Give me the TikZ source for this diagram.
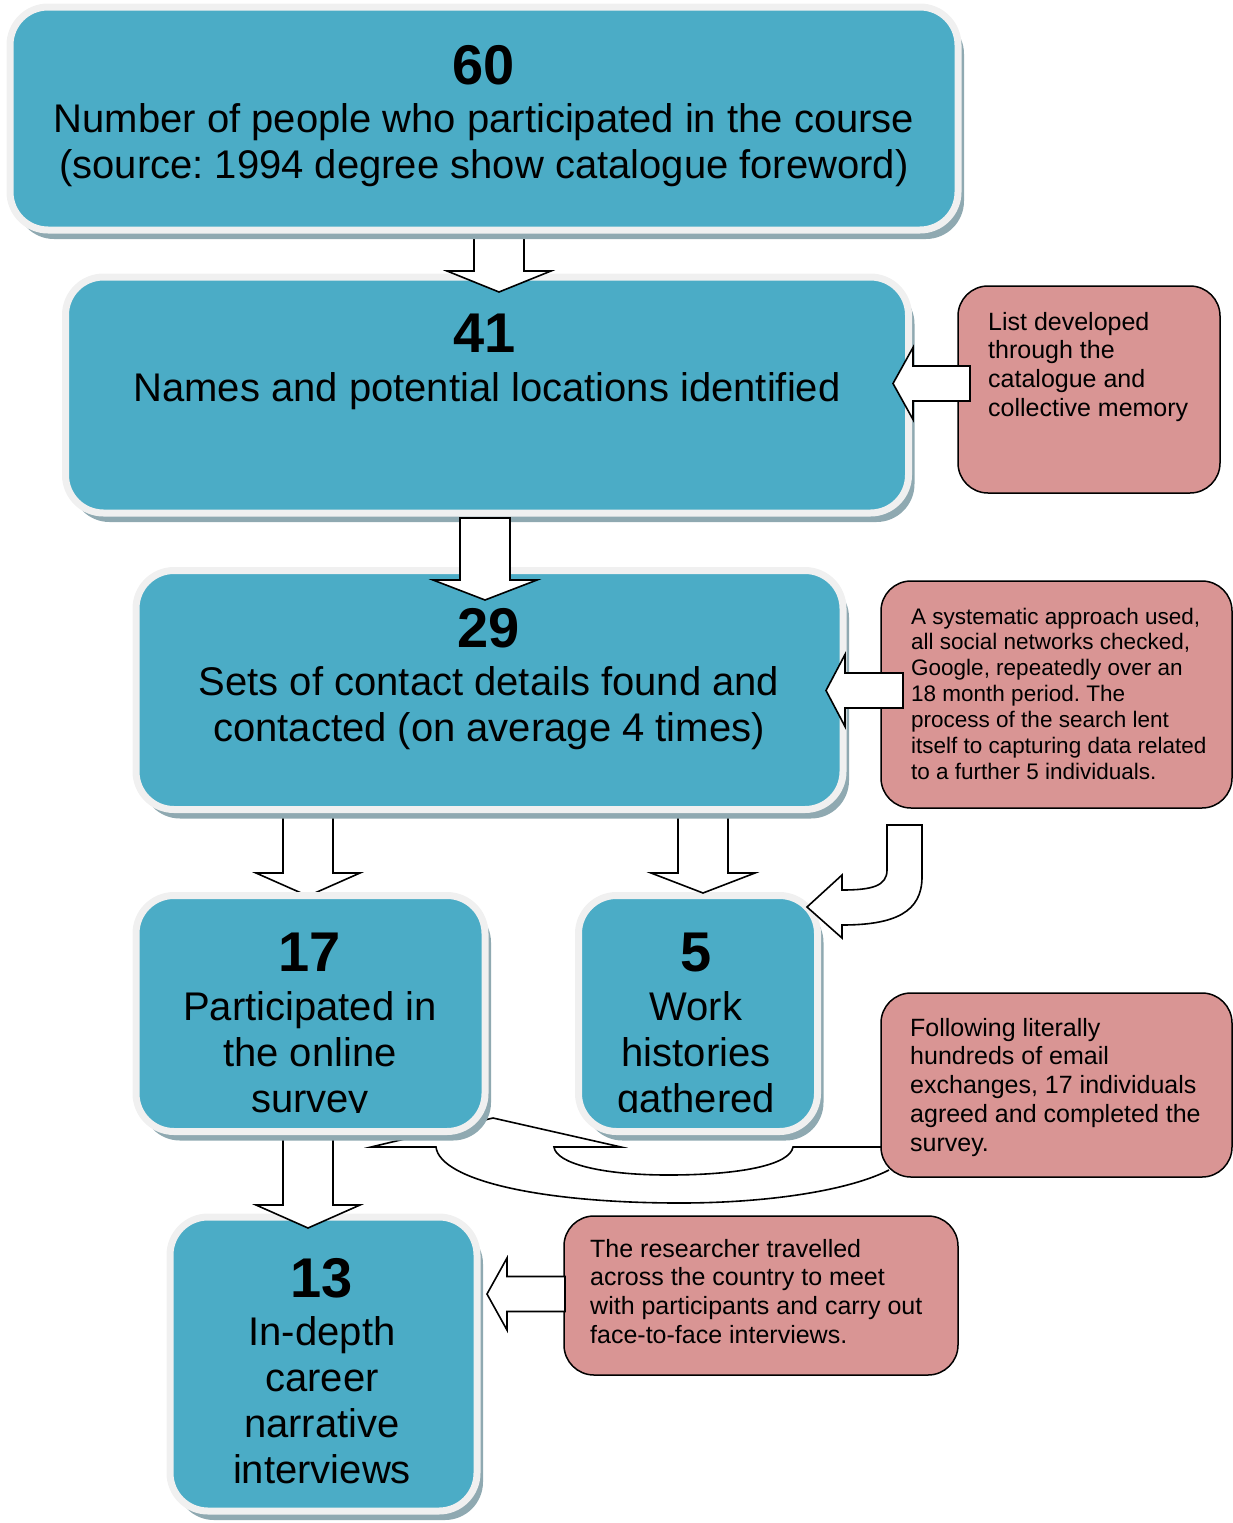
\documentclass[tikz,border=0pt]{standalone}
\usepackage{fontspec}
\setmainfont{Liberation Sans}
\usetikzlibrary{shadows}
\frenchspacing

\definecolor{tealfill}{HTML}{4BACC6}
\definecolor{rimcol}{HTML}{F0F0F0}
\definecolor{shadecol}{HTML}{8FA9B1}
\definecolor{pinkfill}{HTML}{D99594}

\newcommand\bigtext{\fontsize{40}{46}\selectfont}
\newcommand\notefont{\fontsize{25}{28.75}\selectfont}
\newcommand\smallnote{\fontsize{22.5}{25.85}\selectfont}

% downward block arrow: centre x, shaft top, barb line, tip
\newcommand\downblock[4]{%
  \filldraw[blockarrow] (#1-25,#2) -- (#1-25,#3) -- (#1-52,#3) -- (#1,#4)
    -- (#1+52,#3) -- (#1+25,#3) -- (#1+25,#2) -- cycle;}
% leftward block arrow: centre y, tip x, barb x, tail x
\newcommand\leftblock[4]{%
  \filldraw[blockarrow] (#4,#1-17.5) -- (#3,#1-17.5) -- (#3,#1-36) -- (#2,#1)
    -- (#3,#1+36) -- (#3,#1+17.5) -- (#4,#1+17.5) -- cycle;}

\tikzset{
  tealbox/.style={rectangle, rounded corners=38pt, fill=tealfill, draw=rimcol,
    line width=7pt, inner sep=0pt,
    drop shadow={shadow xshift=6pt, shadow yshift=-9pt, fill=shadecol, opacity=1}},
  notebox/.style={rectangle, rounded corners=30pt, fill=pinkfill, draw=black,
    line width=1.5pt, inner sep=0pt},
  blockarrow/.style={fill=white, draw=black, line width=1.6pt, line join=miter},
  link/.style={draw=black, line width=1.6pt},
  bignum/.style={anchor=base, inner sep=0pt, font={\fontsize{56}{60}\selectfont\bfseries}},
  boxtext/.style={anchor=base, inner sep=0pt},
  notetext/.style={anchor=base west, inner sep=0pt}
}

\begin{document}
\begin{tikzpicture}[x=1pt, y=-1pt]
\useasboundingbox (0,0) rectangle (1233,1523);

% U-turn connector from the survey note
\draw[link] (889,1170) .. controls (850,1190) and (770,1203) .. (680,1203)
  .. controls (540,1203) and (440,1180) .. (436,1147) -- (371,1147) -- (493,1118)
  -- (621,1147) -- (554,1147) .. controls (556,1163) and (600,1175) .. (668,1175)
  .. controls (740,1175) and (790,1165) .. (793,1147) -- (882,1147);

% 29 -> 17
\downblock{308}{800}{873}{896}

% 13
\node[tealbox, minimum width=307pt, minimum height=294pt] (b13) at (323.5,1364) {};
\node[bignum] (n13) at (322,1297) {13};
\node[boxtext] (t13) at (322,1345) {\parbox[t]{300pt}{\centering\bigtext In-depth\\career\\narrative\\interviews}};

% 17 -> 13
\downblock{308}{1120}{1205}{1228}

% 17 and 5
\node[tealbox, minimum width=349pt, minimum height=236pt] (b17) at (310.5,1013.5) {};
\node[tealbox, minimum width=239pt, minimum height=236pt] (b5) at (698,1013.5) {};
\begin{scope}
  \clip (120,880) rectangle (830,1112);
  \node[bignum] (n17) at (310,971) {17};
  \node[boxtext] (t17) at (310,1020) {\parbox[t]{340pt}{\centering\bigtext Participated in\\the online\\survey}};
  \node[bignum] (n5) at (696,971) {5};
  \node[boxtext] (t5) at (696,1020) {\parbox[t]{240pt}{\centering\bigtext Work\\histories\\gathered}};
\end{scope}

% 29 -> 5
\downblock{703}{800}{873}{893}

% 41 and 29
\node[tealbox, minimum width=707pt, minimum height=239pt] (b29) at (489.5,690) {};
\node[bignum] (n29) at (489,647) {29};
\node[boxtext] (t29) at (489,695) {\parbox[t]{700pt}{\centering\bigtext Sets of contact details found and\\contacted (on average 4 times)}};

\node[tealbox, minimum width=843pt, minimum height=236pt] (b41) at (487,395) {};
\node[bignum] (n41) at (485,352) {41};
\node[boxtext] (t41) at (487,401) {\parbox[t]{830pt}{\centering\bigtext Names and potential locations identified}};

% 41 -> 29, 60 -> 41
\downblock{485}{518}{580}{600}
\downblock{499}{220}{271}{292}

% 60
\node[tealbox, minimum width=948pt, minimum height=223pt] (b60) at (484,118.5) {};
\node[bignum] (n60) at (484,84) {60};
\node[boxtext] (t60) at (484,132) {\parbox[t]{940pt}{\centering\bigtext Number of people who participated in the course\\(source: 1994 degree show catalogue foreword)}};

% notes
\node[notebox, minimum width=262pt, minimum height=207pt] (p1) at (1089,389.5) {};
\node[notetext] (q1) at (988,330) {\parbox[t]{230pt}{\raggedright\notefont List developed\\through the\\catalogue and\\collective memory}};

\node[notebox, minimum width=351pt, minimum height=227pt] (p2) at (1056.5,694.5) {};
\node[notetext] (q2) at (911,624) {\parbox[t]{320pt}{\raggedright\smallnote A systematic approach used,\\all social networks checked,\\Google, repeatedly over an\\18 month period. The\\process of the search lent\\itself to capturing data related\\to a further 5 individuals.}};

\node[notebox, minimum width=351pt, minimum height=184pt] (p3) at (1056.5,1085) {};
\node[notetext] (q3) at (910,1036) {\parbox[t]{320pt}{\raggedright\notefont Following literally\\hundreds of email\\exchanges, 17 individuals\\agreed and completed the\\survey.}};

\node[notebox, minimum width=394pt, minimum height=159pt] (p4) at (761,1295.5) {};
\node[notetext] (q4) at (590,1257) {\parbox[t]{360pt}{\raggedright\notefont The researcher travelled\\across the country to meet\\with participants and carry out\\face-to-face interviews.}};

% side arrows from the notes
\leftblock{383.5}{893}{913}{970}
\leftblock{690.5}{826}{845}{903}
\leftblock{1294}{487}{507}{565}

% curved arrow into 5
\filldraw[blockarrow] (887,825) -- (922,825) -- (922,877)
  .. controls (922,912) and (895,925) .. (842,925) -- (842,938) -- (807,907)
  -- (842,875) -- (842,890) .. controls (872,890) and (887,886) .. (887,870) -- cycle;

\end{tikzpicture}
\end{document}
